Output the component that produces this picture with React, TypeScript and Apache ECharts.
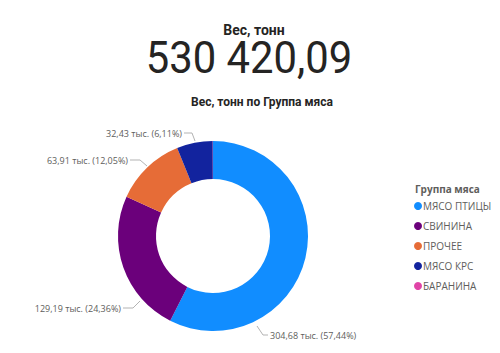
import React, { useEffect, useRef } from "react";
import * as echarts from "echarts";

const categories = ["МЯСО ПТИЦЫ", "СВИНИНА", "ПРОЧЕЕ", "МЯСО КРС", "БАРАНИНА"];
const values = [304.68, 129.19, 63.91, 32.43, 0.21];
const colors = ["#118DFF", "#6B007B", "#E66C37", "#12239E", "#E044A7"];
const totalLabel = "530 420,09";

// label placement (layout only): [x, y, align, line points]
const labelPlacement: any[] = [
  { x: 270, y: 335, align: "left", line: [[257, 326], [263, 335], [268, 335]] },
  { x: 121, y: 308, align: "right", line: [[140, 301], [133, 308], [123, 308]] },
  { x: 128, y: 160, align: "right", line: [[147, 166], [140, 160], [130, 160]] },
  { x: 182, y: 133, align: "right", line: [[195, 141], [192, 133], [184, 133]] },
];

function fmt(n: number, d: number) {
  return n.toFixed(d).replace(".", ",");
}

export default function App() {
  const ref = useRef<HTMLDivElement>(null);
  useEffect(() => {
    const chart = echarts.init(ref.current!, null, { renderer: "svg" });
    const total = values.reduce((a, b) => a + b, 0);
    chart.setOption({
      animation: false,
      title: [
        {
          text: "Вес, тонн",
          left: 249,
          top: 18,
          textAlign: "center",
          textStyle: { fontFamily: "Roboto", fontSize: 14, fontWeight: "bold", color: "#252423" },
        },
        {
          text: "Вес, тонн по Группа мяса",
          left: 257,
          top: 91,
          textAlign: "center",
          textStyle: { fontFamily: "Roboto", fontSize: 12, fontWeight: "bold", color: "#252423" },
        },
        {
          text: "Группа мяса",
          left: 410,
          top: 179,
          textStyle: { fontFamily: "Open Sans", fontSize: 10, fontWeight: "bold", color: "#605E5C" },
        },
      ],
      graphic: [
        {
          type: "text",
          x: 249,
          y: 58,
          scaleX: 0.95,
          style: {
            text: totalLabel,
            fontFamily: "Roboto",
            fontSize: 44,
            lineHeight: 36,
            fill: "#252423",
            textAlign: "center",
            textVerticalAlign: "middle",
          },
        },
      ],
      legend: {
        orient: "vertical",
        left: 409,
        top: 196,
        icon: "circle",
        itemWidth: 8,
        itemHeight: 8,
        itemGap: 10,
        textStyle: { fontFamily: "Open Sans", fontSize: 10, color: "#605E5C", padding: [0, 0, 0, -4] },
        data: categories,
      },
      series: [
        {
          type: "pie",
          center: [213, 236],
          radius: [57, 95],
          startAngle: 90,
          clockwise: true,
          data: categories.map((c, i) => ({
            name: c,
            value: values[i],
            itemStyle: { color: colors[i] },
            label: { show: i < 4 },
            labelLine: { show: i < 4 },
          })),
          label: {
            position: "outside",
            fontFamily: "Open Sans",
            fontSize: 9,
            color: "#605E5C",
            formatter: (p: any) => `${fmt(p.value, 2)} тыс. (${fmt((p.value / total) * 100, 2)}%)`,
          },
          labelLine: {
            length: 8,
            length2: 10,
            lineStyle: { color: "#B3B3B3", width: 1 },
          },
          labelLayout: (p: any) => {
            const lp = labelPlacement[p.dataIndex];
            if (!lp) return {};
            return {
              x: lp.x,
              y: lp.y,
              align: lp.align,
              verticalAlign: "middle",
              labelLinePoints: lp.line,
            };
          },
        },
      ],
    });
    return () => chart.dispose();
  }, []);
  return <div ref={ref} style={{ width: 500, height: 353, position: "absolute", left: 0, top: 0 }} />;
}
